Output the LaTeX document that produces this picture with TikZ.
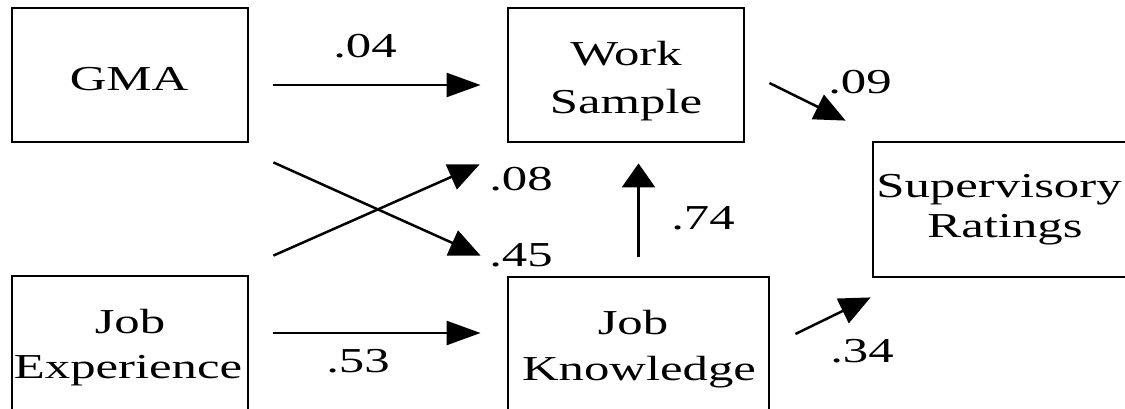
\documentclass[tikz,border=0pt]{standalone}
\usepackage{fontspec}
\setmainfont{Liberation Serif}[FakeStretch=1.45]
\usetikzlibrary{arrows.meta,calc}
\begin{document}
\begin{tikzpicture}[x=1pt,y=-1pt,
  box/.style={draw,line width=2.8pt,rectangle,inner sep=0pt},
  txt/.style={anchor=base,inner sep=0pt,font=\fontsize{35}{42}\selectfont},
  arr/.style={line width=2.5pt,-{Triangle[length=34pt,width=24pt]}},
  varr/.style={line width=2.5pt,-{Triangle[length=24pt,width=33pt]}},
  darr/.style={line width=2.5pt,-{Triangle[length=31pt,width=27pt]}}]
\path[use as bounding box,clip] (0,0) rectangle (1125,408);
% boxes
\node[box,minimum width=236pt,minimum height=134pt] (gma) at (130,75) {};
\node[box,minimum width=236pt,minimum height=134pt] (ws) at (626,75) {};
\node[box,minimum width=236pt,minimum height=140pt] (je) at (130,346) {};
\node[box,minimum width=261pt,minimum height=140pt] (jk) at (638.5,347) {};
\node[box,minimum width=262pt,minimum height=135pt] (sr) at (1004,209.5) {};
% texts
\node[txt] (gmat) at (129,90) {GMA};
\node[txt] (wst1) at (626,65) {Work};
\node[txt] (wst2) at (626,113) {Sample};
\node[txt] (jet1) at (130,333) {Job};
\node[txt] (jet2) at (128,378) {Experience};
\node[txt] (jkt1) at (633,334) {Job};
\node[txt] (jkt2) at (639,380) {Knowledge};
\node[txt] (srt1) at (999,197) {Supervisory};
\node[txt] (srt2) at (1005,237) {Ratings};
% arrows
\draw[arr] ([shift={(24,10)}]gma.east) -- ([shift={(-26,10)}]ws.west);
\draw[arr] ([shift={(24,-13)}]je.east) -- ([shift={(-26,-14)}]jk.west);
\draw[darr] ([shift={(24,19)}]gma.south east) -- ([shift={(-26,-20)}]jk.north west);
\draw[darr] ([shift={(24,-19)}]je.north east) -- ([shift={(-27,21)}]ws.south west);
\draw[varr] ([shift={(0,-19)}]jk.north) -- ($(ws.south -| jk.north)+(0,20)$);
\draw[darr] ([shift={(24,8)}]ws.east) -- ([shift={(-26,-20)}]sr.north west);
\draw[darr] ([shift={(25,-13)}]jk.east) -- ([shift={(-1,19)}]sr.south west);
% coefficients
\node[txt] (l04) at (365,57) {.04};
\node[txt] (l53) at (358,372) {.53};
\node[txt] (l08) at (521,190) {.08};
\node[txt] (l45) at (521,266) {.45};
\node[txt] (l74) at (703,229) {.74};
\node[txt] (l09) at (860,93) {.09};
\node[txt] (l34) at (862,362) {.34};
\end{tikzpicture}
\end{document}
